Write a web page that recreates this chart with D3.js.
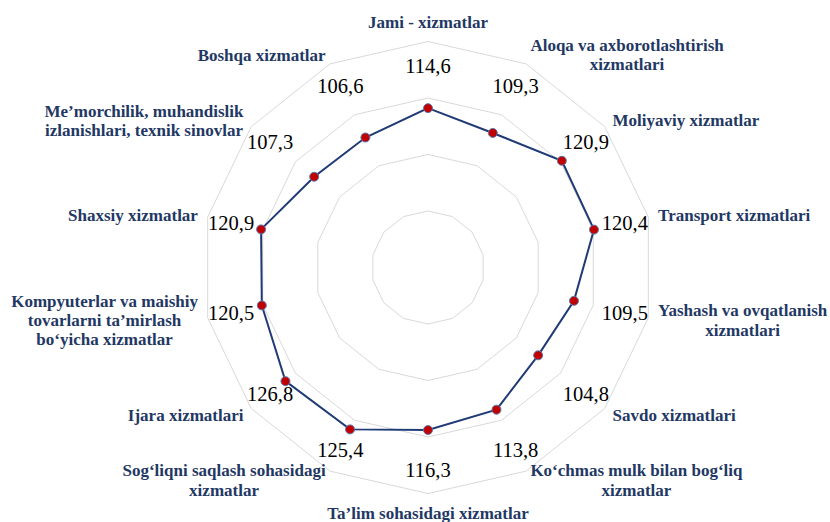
<!DOCTYPE html>
<html>
<head>
<meta charset="utf-8">
<script src="https://cdn.jsdelivr.net/npm/d3@7"></script>
<style>
  body { margin: 0; background: #fff; }
</style>
</head>
<body>
<svg id="chart" width="830" height="522" font-family="'Liberation Serif', 'Times New Roman', 'DejaVu Serif', serif"></svg>
<script>
// Categories, clockwise from the top
const categories = [
  "Jami - xizmatlar",
  "Aloqa va axborotlashtirish\nxizmatlari",
  "Moliyaviy xizmatlar",
  "Transport xizmatlari",
  "Yashash va ovqatlanish\nxizmatlari",
  "Savdo xizmatlari",
  "Ko\u2018chmas mulk bilan bog\u2018liq\nxizmatlar",
  "Ta\u2019lim sohasidagi xizmatlar",
  "Sog\u2018liqni saqlash sohasidagi\nxizmatlar",
  "Ijara xizmatlari",
  "Kompyuterlar va maishiy\ntovarlarni ta\u2019mirlash\nbo\u2018yicha xizmatlar",
  "Shaxsiy xizmatlar",
  "Me\u2019morchilik, muhandislik\nizlanishlari, texnik sinovlar",
  "Boshqa xizmatlar"
];

const values = [114.6, 109.3, 120.9, 120.4, 109.5, 104.8, 113.8, 116.3, 125.4, 126.8, 120.5, 120.9, 107.3, 106.6];

// radial axis (hidden) : 30 .. 150, step 30
const axisMin = 30, axisMax = 150;
const gridTicks = [60, 90, 120, 150];

const svg = d3.select('#chart');
const cx = 428, cy = 267.5;
const outerR = 226;

const r = d3.scaleLinear().domain([axisMin, axisMax]).range([0, outerR]);
const n = categories.length;
const angle = i => i * 2 * Math.PI / n;

const g = svg.append('g').attr('transform', `translate(${cx},${cy})`);

// grid polygons
const ringLine = d3.lineRadial()
  .angle((d, i) => angle(i))
  .radius(d => d)
  .curve(d3.curveLinearClosed);

g.selectAll('path.ring')
  .data(gridTicks)
  .enter().append('path')
  .attr('class', 'ring')
  .attr('d', t => ringLine(d3.range(n).map(() => r(t))))
  .attr('fill', 'none')
  .attr('stroke', '#d9d9d9')
  .attr('stroke-width', 1);

// series line
const seriesLine = d3.lineRadial()
  .angle((d, i) => angle(i))
  .radius(d => r(d))
  .curve(d3.curveLinearClosed);

g.append('path')
  .attr('d', seriesLine(values))
  .attr('fill', 'none')
  .attr('stroke', '#1f3a75')
  .attr('stroke-width', 2);

// markers
g.selectAll('circle.pt')
  .data(values)
  .enter().append('circle')
  .attr('class', 'pt')
  .attr('cx', (d, i) => r(d) * Math.sin(angle(i)))
  .attr('cy', (d, i) => -r(d) * Math.cos(angle(i)))
  .attr('r', 4.5)
  .attr('fill', '#c00000')
  .attr('stroke', '#5b7bb5')
  .attr('stroke-width', 1);

// data labels, placed along each spoke
const fmt = v => v.toFixed(1).replace('.', ',');
const dataLabelR = 202;
g.selectAll('text.val')
  .data(values)
  .enter().append('text')
  .attr('class', 'val')
  .attr('x', (d, i) => dataLabelR * Math.sin(angle(i)))
  .attr('y', (d, i) => -dataLabelR * Math.cos(angle(i)))
  .attr('dy', '0.35em')
  .attr('text-anchor', 'middle')
  .attr('font-size', '20.5px')
  .attr('fill', '#000')
  .text(fmt);

// category labels
const catR = outerR + 10;
const lineH = 19.2;
categories.forEach((c, i) => {
  const a = angle(i);
  const s = Math.sin(a), co = Math.cos(a);
  const lines = c.split('\n');
  const t = g.append('text')
    .attr('font-size', '17px')
    .attr('font-weight', 'bold')
    .attr('fill', '#1f3864')
    .attr('text-anchor', 'middle');
  const spans = lines.map(l => t.append('tspan').text(l));
  const w = d3.max(spans, sp => sp.node().getComputedTextLength());
  const h = lines.length * lineH;

  let bx, by;
  if (Math.abs(s) < 0.01) {
    bx = 0;
    by = -(catR + h / 2) * co;
  } else {
    const ax = catR * s;
    bx = s > 0 ? ax + w / 2 : ax - w / 2;
    by = -catR * co;
  }
  spans.forEach((sp, k) => {
    sp.attr('x', bx)
      .attr('y', by + (k - (lines.length - 1) / 2) * lineH)
      .attr('dy', '0.35em');
  });
});
</script>
</body>
</html>
